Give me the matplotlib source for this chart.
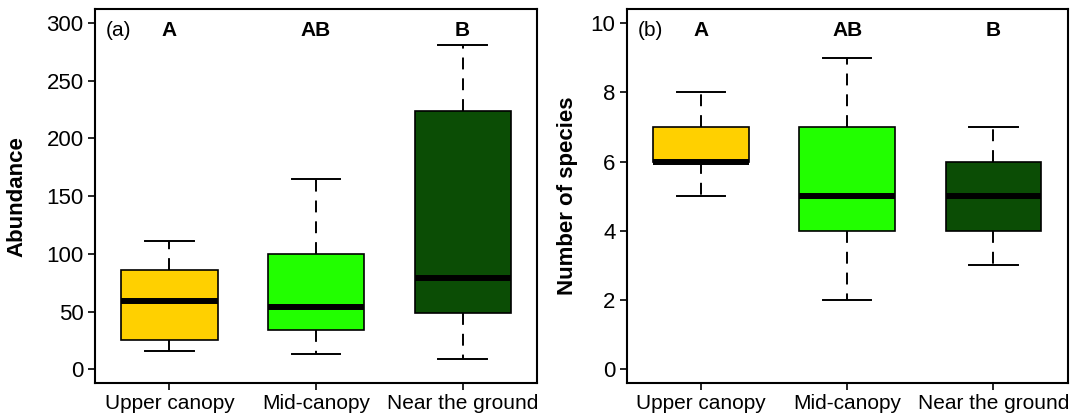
import matplotlib.pyplot as plt

# Box statistics
groups = ["Upper canopy", "Mid-canopy", "Near the ground"]
colors = ["#FFD000", "#22FF00", "#0B4D05"]
letters = ["A", "AB", "B"]

# (a) Abundance
ab_low = [16, 13, 9]
ab_q1 = [25, 34, 49]
ab_med = [59, 54, 79]
ab_q3 = [86, 100, 224]
ab_high = [111, 165, 281]

# (b) Number of species
sp_low = [5, 2, 3]
sp_q1 = [6, 4, 4]
sp_med = [6, 5, 5]
sp_q3 = [7, 7, 6]
sp_high = [8, 9, 7]

plt.rcParams.update({
    "font.family": ["Liberation Sans", "DejaVu Sans"],
    "xtick.labelsize": 15,
    "ytick.labelsize": 16,
})


def make_stats(low, q1, med, q3, high):
    return [
        {"whislo": lo, "q1": a, "med": m, "q3": b, "whishi": hi, "fliers": []}
        for lo, a, m, b, hi in zip(low, q1, med, q3, high)
    ]


def draw_panel(ax, stats, ylim, yticks, ylabel, tag, letter_y):
    bp = ax.bxp(
        stats,
        positions=[1, 2, 3],
        widths=0.656,
        capwidths=0.33,
        patch_artist=True,
        showfliers=False,
        boxprops=dict(linewidth=1.2, edgecolor="black"),
        whiskerprops=dict(linewidth=1.4, color="black", linestyle=(0, (6.1, 4.6))),
        capprops=dict(linewidth=1.4, color="black"),
        medianprops=dict(linewidth=4.3, color="black", solid_capstyle="butt"),
    )
    for patch, c in zip(bp["boxes"], colors):
        patch.set_facecolor(c)

    ax.set_xlim(0.49, 3.51)
    ax.set_ylim(*ylim)
    ax.set_yticks(yticks)
    ax.set_xticks([1, 2, 3])
    ax.set_xticklabels(groups)
    ax.tick_params(direction="out", length=5, width=1.2, pad=3)

    for sp in ax.spines.values():
        sp.set_linewidth(1.5)

    ax.set_ylabel(ylabel, fontsize=16, fontweight="bold")
    ax.text(0.025, letter_y, tag, transform=ax.transAxes,
            ha="left", va="center", fontsize=15)
    for x, lab in zip([1, 2, 3], letters):
        ax.text(x, ylim[0] + (ylim[1] - ylim[0]) * letter_y, lab,
                ha="center", va="center", fontsize=15, fontweight="bold")


fig = plt.figure(figsize=(10.7, 4.16), dpi=100)
ax1 = fig.add_axes([0.0885, 0.0793, 0.4137, 0.8983])
ax2 = fig.add_axes([0.5857, 0.0793, 0.4124, 0.8983])

draw_panel(ax1, make_stats(ab_low, ab_q1, ab_med, ab_q3, ab_high),
           (-12, 312), range(0, 301, 50), "Abundance", "(a)", 0.943)
draw_panel(ax2, make_stats(sp_low, sp_q1, sp_med, sp_q3, sp_high),
           (-0.4, 10.4), range(0, 11, 2), "Number of species", "(b)", 0.943)

ax1.yaxis.set_label_coords(-0.151, 0.5)
ax2.yaxis.set_label_coords(-0.110, 0.5)

plt.savefig("out.png", dpi=100, facecolor="white")
